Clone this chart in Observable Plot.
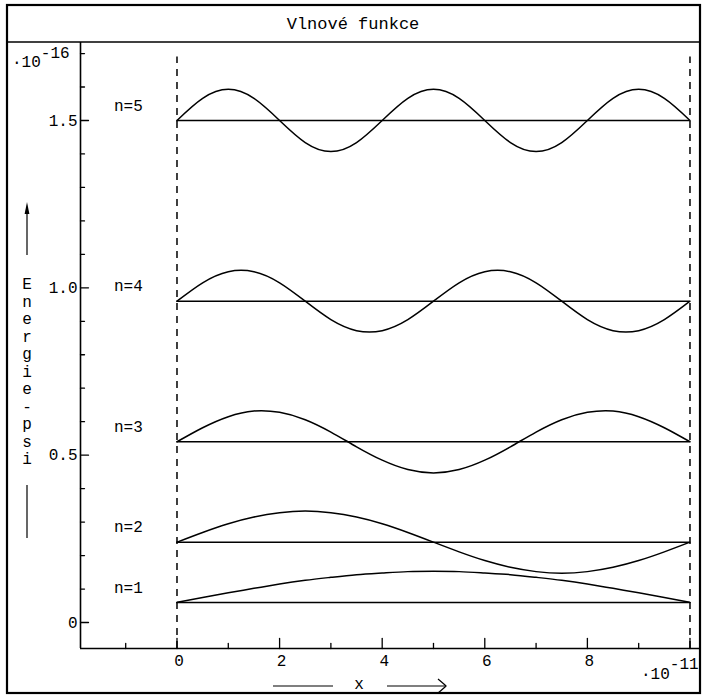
<!DOCTYPE html>
<html><head><meta charset="utf-8">
<script src="https://cdn.jsdelivr.net/npm/d3@7"></script>
<script src="https://cdn.jsdelivr.net/npm/@observablehq/plot@0.6"></script>
<style>body{margin:0;background:#fff}</style>
</head><body><div id="chart"></div>
<script>
const title = "Vlnové funkce";
const yLabel = "Energie-psi";
const xLabel = "x";
const yExponent = "-16";
const xExponent = "-11";

const levels = [1, 2, 3, 4, 5];
const energies = [0.06, 0.24, 0.54, 0.96, 1.50];
const wallPositions = [0, 10];
const wallTop = 1.69;

const xSamples = [0,0.5,1,1.5,2,2.5,3,3.5,4,4.5,5,5.5,6,6.5,7,7.5,8,8.5,9,9.5,10];
const psi1 = [0,.015,.029,.042,.055,.066,.075,.083,.088,.092,.093,.092,.088,.083,.075,.066,.055,.042,.029,.015,0];
const psi2 = [0,.029,.055,.075,.088,.093,.088,.075,.055,.029,0,-.029,-.055,-.075,-.088,-.093,-.088,-.075,-.055,-.029,0];
const psi3 = [0,.042,.075,.092,.088,.066,.029,-.015,-.055,-.083,-.093,-.083,-.055,-.015,.029,.066,.088,.092,.075,.042,0];
const psi4 = [0,.055,.088,.088,.055,0,-.055,-.088,-.088,-.055,0,.055,.088,.088,.055,0,-.055,-.088,-.088,-.055,0];
const psi5 = [0,.066,.093,.066,0,-.066,-.093,-.066,0,.066,.093,.066,0,-.066,-.093,-.066,0,.066,.093,.066,0];

const xTickLabels = [0, 2, 4, 6, 8];
const xMajorTicks = [0, 2, 4, 6, 8, 10];
const xMinorTicks = [-1, 1, 3, 5, 7, 9];
const yTickLabels = [0, 0.5, 1.0, 1.5];
const yMinorTicks = [0.1,0.2,0.3,0.4,0.6,0.7,0.8,0.9,1.1,1.2,1.3,1.4,1.6,1.7];

const xDomain = [-1.881, 10.205];
const yDomain = [-0.0777, 1.733];

const psis = [psi1, psi2, psi3, psi4, psi5];
const rows = [];
levels.forEach((n, k) => {
  xSamples.forEach((x, i) => rows.push({n, x, y: energies[k] + psis[k][i]}));
});

const tickShape = {draw(c, l) { c.moveTo(0, 0); c.lineTo(0, -l); }};
const FONT = "'Liberation Mono', 'DejaVu Sans Mono', monospace";

const svg = Plot.plot({
  width: 703,
  height: 698,
  marginLeft: 80,
  marginRight: 3,
  marginTop: 42,
  marginBottom: 50,
  style: {fontFamily: FONT, fontSize: "16px", background: "#fff", color: "#000"},
  x: {domain: xDomain},
  y: {domain: yDomain},
  marks: [
    Plot.ruleX([xDomain[0]], {strokeWidth: 1.6}),
    Plot.ruleY([yDomain[0]], {strokeWidth: 1.6}),
    Plot.ruleX(wallPositions, {y1: yDomain[0], y2: wallTop, strokeDasharray: "7,6", strokeWidth: 1.5}),
    Plot.ruleY(energies, {x1: wallPositions[0], x2: wallPositions[1], strokeWidth: 1.5}),
    Plot.line(rows, {x: "x", y: "y", z: "n", curve: "natural", strokeWidth: 1.5}),
    Plot.text(levels, {x: wallPositions[0], y: (d, i) => energies[i], text: d => `n=${d}`,
      textAnchor: "start", dx: -63, dy: -15}),
    Plot.vector(yTickLabels, {x: xDomain[0], y: d => d, length: 8, rotate: 90, anchor: "start", shape: tickShape, strokeWidth: 1.3}),
    Plot.vector(yMinorTicks, {x: xDomain[0], y: d => d, length: 4, rotate: 90, anchor: "start", shape: tickShape, strokeWidth: 1.3}),
    Plot.vector(xMajorTicks, {x: d => d, y: yDomain[0], length: 10, rotate: 0, anchor: "start", shape: tickShape, strokeWidth: 1.3}),
    Plot.vector(xMinorTicks, {x: d => d, y: yDomain[0], length: 5, rotate: 0, anchor: "start", shape: tickShape, strokeWidth: 1.3}),
    Plot.axisY(yTickLabels, {tickSize: 0, tickPadding: 3, label: null,
      tickFormat: d => d === 0 ? "0" : d.toFixed(1)}),
    Plot.axisX(xTickLabels, {tickSize: 0, tickPadding: 6, label: null, dx: 2,
      tickFormat: d => String(d)})
  ]
});

const s = d3.select(svg);
// outer frame and title bar
s.append("rect").attr("x", 7).attr("y", 5).attr("width", 693).attr("height", 688)
  .attr("fill", "none").attr("stroke", "#000").attr("stroke-width", 2.2);
s.append("line").attr("x1", 7).attr("x2", 700).attr("y1", 42).attr("y2", 42)
  .attr("stroke", "#000").attr("stroke-width", 1.4);
s.append("text").attr("x", 353).attr("y", 24).attr("text-anchor", "middle")
  .attr("dominant-baseline", "central").attr("font-size", 17).attr("fill", "#000").text(title);

// exponent labels
const ey = s.append("text").attr("x", 12).attr("y", 67).attr("text-anchor", "start")
  .attr("font-size", 16).attr("fill", "#000");
ey.append("tspan").text("·10");
ey.append("tspan").attr("dy", -9).text(yExponent);
const ex = s.append("text").attr("x", 641).attr("y", 679).attr("text-anchor", "start")
  .attr("font-size", 16).attr("fill", "#000");
ex.append("tspan").text("·10");
ex.append("tspan").attr("dy", -10).text(xExponent);

// y label: vertical stacked letters with arrow
const yl = s.append("text").attr("font-size", 16).attr("text-anchor", "middle").attr("fill", "#000");
Array.from(yLabel).forEach((ch, i) => {
  yl.append("tspan").attr("x", 27).attr("y", 289 + 17.5 * i).text(ch);
});
s.append("line").attr("x1", 27).attr("x2", 27).attr("y1", 255).attr("y2", 210)
  .attr("stroke", "#000").attr("stroke-width", 1.2);
s.append("path").attr("d", "M27,202 L24.6,214 L29.4,214 Z").attr("fill", "#000");
s.append("line").attr("x1", 27).attr("x2", 27).attr("y1", 485).attr("y2", 538)
  .attr("stroke", "#000").attr("stroke-width", 1.2);

// x label with arrow
s.append("line").attr("x1", 273).attr("x2", 333).attr("y1", 686).attr("y2", 686)
  .attr("stroke", "#000").attr("stroke-width", 1.2);
s.append("text").attr("x", 359).attr("y", 685).attr("text-anchor", "middle")
  .attr("dominant-baseline", "central").attr("font-size", 16).attr("fill", "#000").text(xLabel);
s.append("line").attr("x1", 387).attr("x2", 445).attr("y1", 686).attr("y2", 686)
  .attr("stroke", "#000").attr("stroke-width", 1.2);
s.append("path").attr("d", "M438,679 Q444,684 446,686 Q444,688 438,693")
  .attr("fill", "none").attr("stroke", "#000").attr("stroke-width", 1.2);

document.getElementById("chart").appendChild(svg);
</script>
</body></html>
